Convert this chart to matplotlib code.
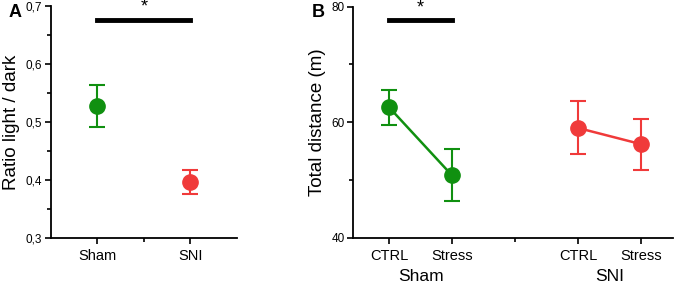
import matplotlib
matplotlib.use("Agg")
import matplotlib.pyplot as plt
from matplotlib.ticker import FuncFormatter, MultipleLocator, FixedLocator

plt.rcParams['font.family'] = ['Liberation Sans', 'DejaVu Sans']

green = '#109010'
red = '#f03a3a'

# Panel A: ratio light / dark
groups_a = ['Sham', 'SNI']
ratio_mean = [0.528, 0.397]
ratio_lo = [0.492, 0.376]
ratio_hi = [0.564, 0.417]

# Panel B: total distance
cond_b = ['CTRL', 'Stress']
sham_dist = [62.6, 50.8]
sham_lo = [59.5, 46.4]
sham_hi = [65.6, 55.4]
sni_dist = [59.0, 56.2]
sni_lo = [54.5, 51.8]
sni_hi = [63.6, 60.5]


def style_axis(ax):
    ax.spines['top'].set_visible(False)
    ax.spines['right'].set_visible(False)
    for s in ('left', 'bottom'):
        ax.spines[s].set_linewidth(1.3)
    ax.tick_params(which='major', direction='out', length=4, width=1.2)
    ax.tick_params(which='minor', direction='out', length=3, width=1.2)
    ax.tick_params(axis='y', labelsize=8.5, pad=2)
    ax.tick_params(axis='x', labelsize=10.5, pad=4)


fig = plt.figure(figsize=(6.75, 2.84), dpi=100)

# ---- Panel A
ax1 = fig.add_axes([0.075, 0.162, 0.276, 0.817])
style_axis(ax1)
xa = [1, 2]
cols_a = [green, red]
for x, m, lo, hi, c in zip(xa, ratio_mean, ratio_lo, ratio_hi, cols_a):
    ax1.errorbar([x], [m], yerr=[[m - lo], [hi - m]], fmt='o', color=c,
                 markersize=11, capsize=6, elinewidth=1.5, capthick=1.5)
ax1.set_xlim(0.5, 2.5)
ax1.set_ylim(0.3, 0.7)
ax1.set_xticks(xa)
ax1.set_xticklabels(groups_a)
ax1.xaxis.set_minor_locator(FixedLocator([1.5]))
ax1.yaxis.set_major_locator(MultipleLocator(0.1))
ax1.yaxis.set_minor_locator(MultipleLocator(0.05))
ax1.yaxis.set_major_formatter(FuncFormatter(lambda v, p: f"{v:.1f}".replace('.', ',')))
ax1.set_ylabel('Ratio light / dark', fontsize=13.5, labelpad=4)
ax1.plot([1, 2], [0.676, 0.676], color='black', lw=3.5, clip_on=False)
ax1.text(1.5, 0.683, '*', ha='center', va='bottom', fontsize=13)
fig.text(0.012, 0.94, 'A', fontsize=13, fontweight='bold')

# ---- Panel B
ax2 = fig.add_axes([0.523, 0.162, 0.474, 0.815])
style_axis(ax2)
xb_sham = [1, 2]
xb_sni = [4, 5]
for xs, m, lo, hi, c in [(xb_sham, sham_dist, sham_lo, sham_hi, green),
                         (xb_sni, sni_dist, sni_lo, sni_hi, red)]:
    ax2.errorbar(xs, m, yerr=[[a - b for a, b in zip(m, lo)], [b - a for a, b in zip(m, hi)]],
                 fmt='-o', color=c, markersize=11, capsize=6, elinewidth=1.5,
                 capthick=1.5, lw=1.8)
ax2.set_xlim(0.43, 5.5)
ax2.set_ylim(40, 80)
ax2.set_xticks(xb_sham + xb_sni)
ax2.set_xticklabels(cond_b + cond_b)
ax2.xaxis.set_minor_locator(FixedLocator([3]))
ax2.yaxis.set_major_locator(MultipleLocator(20))
ax2.yaxis.set_minor_locator(MultipleLocator(10))
ax2.set_ylabel('Total distance (m)', fontsize=13.5, labelpad=4)
ax2.plot([1, 2], [77.6, 77.6], color='black', lw=3.5, clip_on=False)
ax2.text(1.5, 78.2, '*', ha='center', va='bottom', fontsize=13)
ax2.text(1.5, -0.165, 'Sham', transform=ax2.get_xaxis_transform(), ha='center', va='center', fontsize=12.5)
ax2.text(4.5, -0.165, 'SNI', transform=ax2.get_xaxis_transform(), ha='center', va='center', fontsize=12.5)
fig.text(0.462, 0.94, 'B', fontsize=13, fontweight='bold')

fig.savefig('out.png', dpi=100)
